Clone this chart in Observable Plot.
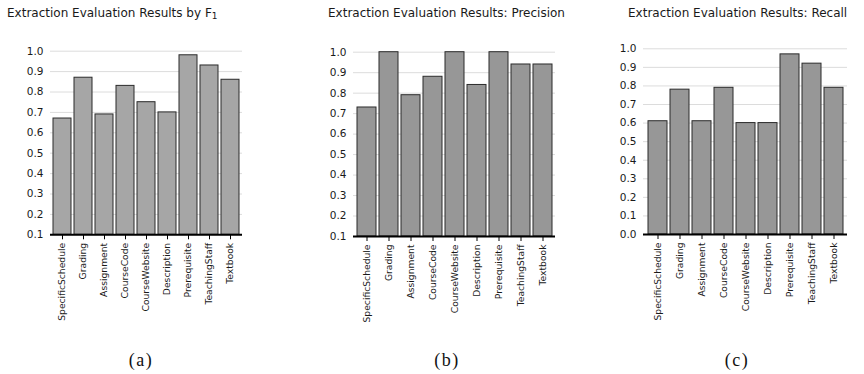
<!DOCTYPE html>
<html>
<head>
<meta charset="utf-8">
<script src="https://cdn.jsdelivr.net/npm/d3@7"></script>
<script src="https://cdn.jsdelivr.net/npm/@observablehq/plot@0.6"></script>
<style>
  html, body { margin: 0; padding: 0; background: #fff; }
  #root { position: relative; width: 864px; height: 374px; overflow: hidden; font-family: "DejaVu Sans", sans-serif; }
  .panel { position: absolute; top: 0; }
  .title { position: absolute; top: 6px; font-size: 12px; color: #1a1a1a; white-space: nowrap; }
  .title sub { font-size: 9px; vertical-align: -2px; line-height: 0; }
  .cap { position: absolute; top: 350px; width: 60px; margin-left: -30px; text-align: center; font-family: "Liberation Serif", serif; font-size: 18px; letter-spacing: 1.5px; color: #111; }
</style>
</head>
<body>
<div id="root"></div>
<script>
const categories = ["SpecificSchedule", "Grading", "Assignment", "CourseCode", "CourseWebsite", "Description", "Prerequisite", "TeachingStaff", "Textbook"];
const f1Values = [0.67, 0.87, 0.69, 0.83, 0.75, 0.70, 0.98, 0.93, 0.86];
const precisionValues = [0.73, 1.00, 0.79, 0.88, 1.00, 0.84, 1.00, 0.94, 0.94];
const recallValues = [0.61, 0.78, 0.61, 0.79, 0.60, 0.60, 0.97, 0.92, 0.79];
const f1Ticks = [0.1, 0.2, 0.3, 0.4, 0.5, 0.6, 0.7, 0.8, 0.9, 1.0];
const precisionTicks = [0.1, 0.2, 0.3, 0.4, 0.5, 0.6, 0.7, 0.8, 0.9, 1.0];
const recallTicks = [0.0, 0.1, 0.2, 0.3, 0.4, 0.5, 0.6, 0.7, 0.8, 0.9, 1.0];
const titles = ["Extraction Evaluation Results by F<sub>1</sub>", "Extraction Evaluation Results: Precision", "Extraction Evaluation Results: Recall"];
const captions = ["(a)", "(b)", "(c)"];

const root = document.getElementById("root");

const panels = [
  {values: f1Values, ticks: f1Ticks, base: 0.1, left: 0, width: 290, mt: 50.7, mb: 105.7, ml: 50, mr: 48, fill: "#a6a6a6", titleX: 7, capX: 141},
  {values: precisionValues, ticks: precisionTicks, base: 0.1, left: 290, width: 290, mt: 51.7, mb: 104, ml: 63, mr: 25, fill: "#979797", titleX: 328, capX: 447},
  {values: recallValues, ticks: recallTicks, base: 0.0, left: 580, width: 284, mt: 48.3, mb: 106, ml: 63, mr: 17, fill: "#979797", titleX: 628, capX: 737}
];

panels.forEach((p, i) => {
  const data = categories.map((c, j) => ({category: c, value: p.values[j]}));
  const chart = Plot.plot({
    width: p.width,
    height: 340,
    marginTop: p.mt,
    marginBottom: p.mb,
    marginLeft: p.ml,
    marginRight: p.mr,
    style: {fontFamily: "DejaVu Sans, sans-serif", color: "#1a1a1a", background: "transparent"},
    x: {domain: categories, paddingInner: 0.15, paddingOuter: 0.08, axis: null},
    y: {domain: [p.base, 1.0], axis: null},
    marks: [
      Plot.gridY(p.ticks, {stroke: "#dcdcdc", strokeOpacity: 1}),
      Plot.axisY(p.ticks, {tickSize: 0, tickPadding: 7, tickFormat: d3.format(".1f"), fontSize: 10.5, label: null}),
      Plot.barY(data, {x: "category", y1: () => p.base, y2: "value", fill: p.fill, stroke: "#2b2b2b", strokeWidth: 1}),
      Plot.ruleY([p.base], {stroke: "#000", strokeWidth: 2}),
      Plot.axisX({tickRotate: -90, tickSize: 5, tickPadding: 3, fontSize: 9.2, label: null, stroke: "#000"})
    ]
  });
  chart.classList.add("panel");
  chart.style.left = p.left + "px";
  root.appendChild(chart);

  const t = document.createElement("div");
  t.className = "title";
  t.style.left = p.titleX + "px";
  t.innerHTML = titles[i];
  root.appendChild(t);

  const c = document.createElement("div");
  c.className = "cap";
  c.style.left = p.capX + "px";
  c.textContent = captions[i];
  root.appendChild(c);
});
</script>
</body>
</html>
